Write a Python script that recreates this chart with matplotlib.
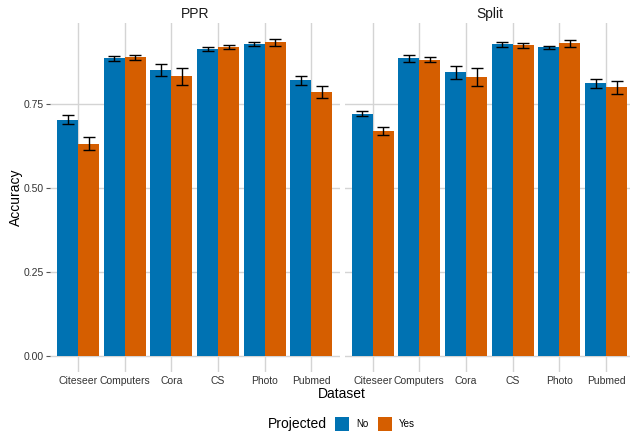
import matplotlib
matplotlib.use("Agg")
import matplotlib.pyplot as plt
from matplotlib.patches import Rectangle
import numpy as np

plt.rcParams['font.family'] = ['Liberation Sans', 'DejaVu Sans']

datasets = ["Citeseer", "Computers", "Cora", "CS", "Photo", "Pubmed"]
facets = ["PPR", "Split"]
groups = ["No", "Yes"]

ppr_no = [0.705, 0.887, 0.852, 0.914, 0.929, 0.822]
ppr_no_err = [0.0145, 0.0085, 0.018, 0.006, 0.006, 0.0135]
ppr_yes = [0.633, 0.890, 0.834, 0.920, 0.935, 0.786]
ppr_yes_err = [0.020, 0.007, 0.025, 0.006, 0.0105, 0.018]

split_no = [0.723, 0.887, 0.846, 0.929, 0.920, 0.813]
split_no_err = [0.007, 0.011, 0.020, 0.0075, 0.0055, 0.0125]
split_yes = [0.672, 0.884, 0.831, 0.926, 0.932, 0.801]
split_yes_err = [0.012, 0.007, 0.027, 0.0065, 0.0105, 0.0195]

colors = {"No": "#0072B2", "Yes": "#D55E00"}
W, H = 630, 434

fig = plt.figure(figsize=(W / 100, H / 100), dpi=100)

panel_bottom = 372
panel_top = 23
panels = [(50.0, 339.5), (344.7, 634.0)]

data = {
    "PPR": {"No": (ppr_no, ppr_no_err), "Yes": (ppr_yes, ppr_yes_err)},
    "Split": {"No": (split_no, split_no_err), "Yes": (split_yes, split_yes_err)},
}

ymax = max(max(np.array(v) + np.array(e)) for f in data.values() for (v, e) in f.values())
ylo, yhi = -0.05 * ymax, 1.05 * ymax

x = np.arange(1, len(datasets) + 1)
bw = 0.45
grid_c = "#D4D4D4"

for i, (facet, (l, r)) in enumerate(zip(facets, panels)):
    ax = fig.add_axes([l / W, (H - panel_bottom) / H, (r - l) / W, (panel_bottom - panel_top) / H])
    ax.set_xlim(0.4, len(datasets) + 0.6)
    ax.set_ylim(ylo, yhi)
    for s in ax.spines.values():
        s.set_visible(False)
    ax.set_xticks(x)
    ax.set_xticklabels(datasets, fontsize=7.5, color="#333333")
    ax.set_yticks([0, 0.25, 0.5, 0.75])
    ax.set_yticklabels(["0.00", "0.25", "0.50", "0.75"], fontsize=7.5, color="#333333")
    ax.tick_params(axis="x", length=0, pad=3)
    ax.tick_params(axis="y", length=3, width=0.8, color="#555555", pad=1.5)
    if i > 0:
        ax.tick_params(axis="y", labelleft=False, length=0)
    ax.grid(True, color=grid_c, linewidth=1.0)
    ax.set_axisbelow(True)
    for j, g in enumerate(groups):
        vals, errs = data[facet][g]
        off = -bw / 2 if j == 0 else bw / 2
        ax.bar(x + off, vals, width=bw, color=colors[g], zorder=2)
        ax.errorbar(x + off, vals, yerr=errs, fmt="none", ecolor="black",
                    elinewidth=1.0, capsize=4.3, capthick=1.0, zorder=3)
    fig.text((l + r) / 2 / W, 1 - 14 / H, facet, ha="center", va="center", fontsize=10, color="#1A1A1A")

fig.text(16 / W, 1 - 197 / H, "Accuracy", rotation=90, ha="center", va="center", fontsize=10)
fig.text(342 / W, 1 - 394 / H, "Dataset", ha="center", va="center", fontsize=10)

# legend
ly = 424
fig.text(268 / W, 1 - ly / H, "Projected", ha="left", va="center", fontsize=10)
for (g, kx, tx) in [("No", 335, 356.5), ("Yes", 378.3, 399)]:
    fig.patches.append(Rectangle((kx / W, 1 - 430.7 / H), 14 / W, 13.4 / H,
                                 transform=fig.transFigure, facecolor=colors[g], edgecolor="none"))
    fig.text(tx / W, 1 - ly / H, g, ha="left", va="center", fontsize=7)

fig.savefig("out.png", dpi=100)
